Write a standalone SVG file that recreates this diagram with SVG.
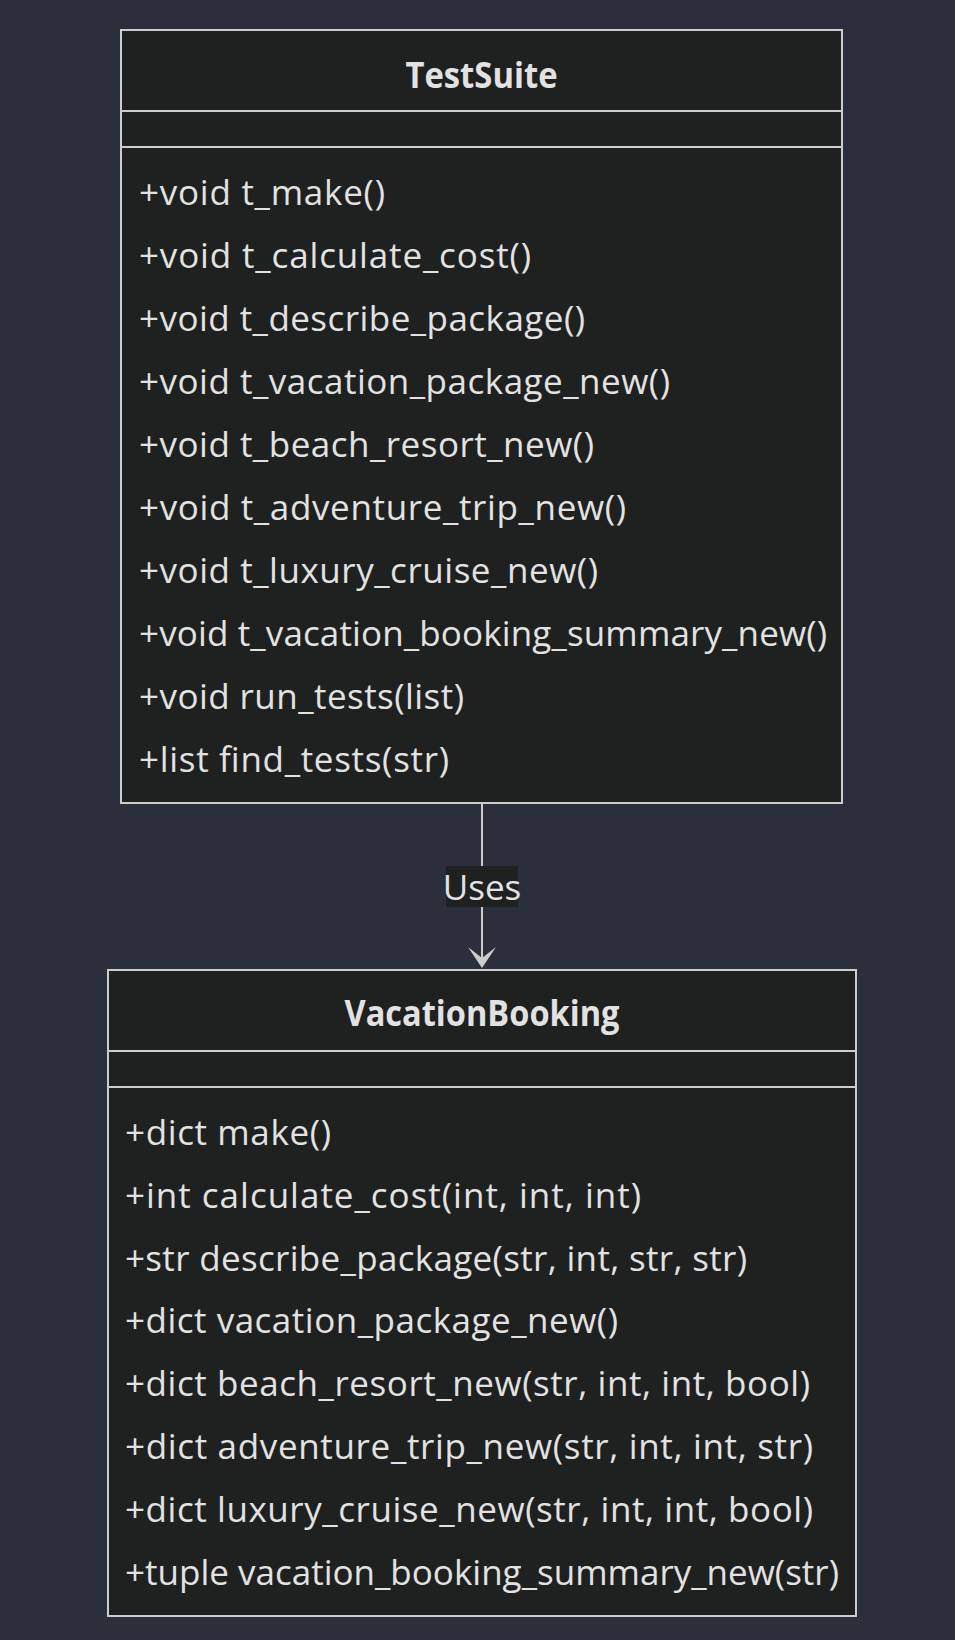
<svg xmlns="http://www.w3.org/2000/svg" width="955" height="1640" viewBox="0 0 955 1640">
<style>
.bg{fill:#2a2f3b}
.box{fill:#1f2020;stroke:#cccccc;stroke-width:2}
.div{stroke:#cccccc;stroke-width:2}
.title{font-family:"Open Sans","DejaVu Sans",sans-serif;font-size:35px;font-weight:bold;fill:#e2e2e2;text-anchor:middle}
.m{font-family:"Open Sans","DejaVu Sans",sans-serif;font-size:35px;fill:#e2e2e2}
.edge{stroke:#cccccc;stroke-width:2;fill:none}
.lbl{fill:#1f2020}
.head{fill:#cccccc}
</style>
<rect class="bg" x="0" y="0" width="955" height="1640"/>
<g id="TestSuite">
<rect class="box" x="121" y="30" width="721" height="773"/>
<line class="div" x1="121" y1="111" x2="842" y2="111"/>
<line class="div" x1="121" y1="147" x2="842" y2="147"/>
<text class="title" x="481.5" y="88" textLength="152" lengthAdjust="spacingAndGlyphs">TestSuite</text>
<text class="m" x="139" y="204.5" textLength="246" lengthAdjust="spacing">+void t_make()</text>
<text class="m" x="139" y="267.5" textLength="392" lengthAdjust="spacing">+void t_calculate_cost()</text>
<text class="m" x="139" y="330.5" textLength="446" lengthAdjust="spacing">+void t_describe_package()</text>
<text class="m" x="139" y="393.5" textLength="531" lengthAdjust="spacing">+void t_vacation_package_new()</text>
<text class="m" x="139" y="456.5" textLength="455" lengthAdjust="spacing">+void t_beach_resort_new()</text>
<text class="m" x="139" y="519.5" textLength="487" lengthAdjust="spacing">+void t_adventure_trip_new()</text>
<text class="m" x="139" y="582.5" textLength="459" lengthAdjust="spacing">+void t_luxury_cruise_new()</text>
<text class="m" x="139" y="645.5" textLength="688" lengthAdjust="spacing">+void t_vacation_booking_summary_new()</text>
<text class="m" x="139" y="708.5" textLength="325" lengthAdjust="spacing">+void run_tests(list)</text>
<text class="m" x="139" y="771.5" textLength="310" lengthAdjust="spacing">+list find_tests(str)</text>
</g>
<g id="VacationBooking">
<rect class="box" x="108" y="970" width="748" height="646"/>
<line class="div" x1="108" y1="1051" x2="856" y2="1051"/>
<line class="div" x1="108" y1="1087" x2="856" y2="1087"/>
<text class="title" x="482" y="1026" textLength="275" lengthAdjust="spacingAndGlyphs">VacationBooking</text>
<text class="m" x="125" y="1145" textLength="206" lengthAdjust="spacing">+dict make()</text>
<text class="m" x="125" y="1207.8" textLength="516" lengthAdjust="spacing">+int calculate_cost(int, int, int)</text>
<text class="m" x="125" y="1270.6" textLength="622" lengthAdjust="spacing">+str describe_package(str, int, str, str)</text>
<text class="m" x="125" y="1333.4" textLength="493" lengthAdjust="spacing">+dict vacation_package_new()</text>
<text class="m" x="125" y="1396.2" textLength="685" lengthAdjust="spacing">+dict beach_resort_new(str, int, int, bool)</text>
<text class="m" x="125" y="1459" textLength="688" lengthAdjust="spacing">+dict adventure_trip_new(str, int, int, str)</text>
<text class="m" x="125" y="1521.8" textLength="688" lengthAdjust="spacing">+dict luxury_cruise_new(str, int, int, bool)</text>
<text class="m" x="125" y="1584.6" textLength="714" lengthAdjust="spacing">+tuple vacation_booking_summary_new(str)</text>
</g>
<g id="connectors">
<line class="edge" x1="482" y1="803" x2="482" y2="962"/>
<path class="head" d="M468,947 L482,968 L496,947 L482,958 Z"/>
<rect class="lbl" x="446" y="866" width="72" height="41"/>
<text class="m" x="482" y="900" text-anchor="middle">Uses</text>
</g>
</svg>
